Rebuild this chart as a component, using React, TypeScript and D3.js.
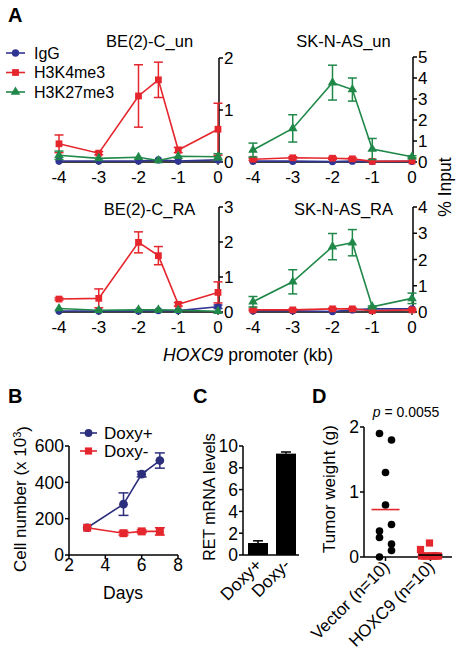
import React from "react";
import * as d3 from "d3";

const FONT = "'Liberation Sans', Arial, Helvetica, sans-serif";
const BLUE = "#303594";
const RED = "#e5262d";
const GREEN = "#20894a";
const NAVY = "#2c2f7c";

// ---------- Panel A data ----------
const promoterKb = [-4, -3, -2, -1.5, -1, 0];
const promoterTicks = [-4, -3, -2, -1, 0];
const seriesNames = ["IgG", "H3K4me3", "H3K27me3"];

const beUnIgG = [0.02, 0.02, 0.02, 0.04, 0.02, 0.04];
const beUnIgGErr = [0, 0, 0, 0, 0, 0];
const beUnK4 = [0.35, 0.17, 1.27, 1.58, 0.23, 0.63];
const beUnK4Err = [0.17, 0.03, 0.6, 0.34, 0.05, 0.5];
const beUnK27 = [0.13, 0.07, 0.09, 0.03, 0.11, 0.1];
const beUnK27Err = [0.08, 0.02, 0.02, 0.01, 0.02, 0.06];

const skUnIgG = [0.04, 0.04, 0.02, 0.04, 0.03, 0.03];
const skUnIgGErr = [0, 0, 0, 0, 0, 0];
const skUnK4 = [0.13, 0.2, 0.18, 0.15, 0.03, 0.05];
const skUnK4Err = [0.05, 0.05, 0.05, 0.05, 0.02, 0.02];
const skUnK27 = [0.57, 1.6, 3.78, 3.45, 0.62, 0.25];
const skUnK27Err = [0.33, 0.65, 0.83, 0.55, 0.5, 0.05];

const beRaIgG = [0.03, 0.03, 0.03, 0.04, 0.04, 0.15];
const beRaIgGErr = [0, 0, 0, 0, 0, 0.05];
const beRaK4 = [0.37, 0.39, 1.99, 1.61, 0.22, 0.56];
const beRaK4Err = [0.03, 0.27, 0.3, 0.26, 0.05, 0.3];
const beRaK27 = [0.1, 0.05, 0.06, 0.06, 0.05, 0.02];
const beRaK27Err = [0.02, 0.01, 0.01, 0.01, 0.01, 0.01];

const skRaIgG = [0.05, 0.05, 0.02, 0.08, 0.12, 0.12];
const skRaIgGErr = [0, 0, 0, 0, 0, 0];
const skRaK4 = [0.08, 0.08, 0.12, 0.12, 0.05, 0.08];
const skRaK4Err = [0.03, 0.03, 0.03, 0.03, 0.02, 0.03];
const skRaK27 = [0.39, 1.15, 2.49, 2.64, 0.2, 0.52];
const skRaK27Err = [0.2, 0.46, 0.5, 0.5, 0.03, 0.2];

// ---------- Panel B data ----------
const days = [3, 5, 6, 7];
const dayTicks = [2, 4, 6, 8];
const cellTicks = [0, 200, 400, 600];
const doxyPlusCells = [150, 280, 445, 520];
const doxyPlusErr = [0, 62, 15, 42];
const doxyMinusCells = [150, 120, 130, 130];
const doxyMinusErr = [0, 10, 8, 20];

// ---------- Panel C data ----------
const retGroups = ["Doxy+", "Doxy-"];
const retLevels = [1.1, 9.3];
const retErr = [0.2, 0.15];
const retTicks = [0, 2, 4, 6, 8, 10];

// ---------- Panel D data ----------
const tumorGroups = ["Vector (n=10)", "HOXC9 (n=10)"];
const vectorWeights = [1.9, 1.8, 1.3, 0.8, 0.5, 0.4, 0.3, 0.2, 0.1, 0.0];
const hoxc9Weights = [0.1, 0.2, 0, 0, 0, 0, 0, 0, 0, 0];
const tumorTicks = [0, 1, 2];
const pValueText = "= 0.0055";

// layout jitter (pixels) for the dot columns
const vectorJitter = [-6, 6, 0, 0, 6, -6, -6, 6, 6, -6];
const hoxc9Jitter = [-10, -1, -9, -4, 0, 4, 8, -6, 2, 6];

const sym = (type: any, size: number) => d3.symbol().type(type).size(size)() as string;

type Series = { vals: number[]; err: number[]; color: string; shape: any; size: number };

function ChipPanel(props: {
  title: string;
  xr: [number, number];
  yr: [number, number];
  yMax: number;
  titleY: number;
  igg: number[]; iggErr: number[];
  k4: number[]; k4Err: number[];
  k27: number[]; k27Err: number[];
}) {
  const x = d3.scaleLinear().domain([-4, 0]).range(props.xr);
  const y = d3.scaleLinear().domain([0, props.yMax]).range(props.yr);
  const yTicks = d3.range(0, props.yMax + 1);
  const series: Series[] = [
    { vals: props.igg, err: props.iggErr, color: BLUE, shape: d3.symbolCircle, size: 42 },
    { vals: props.k4, err: props.k4Err, color: RED, shape: d3.symbolSquare, size: 46 },
    { vals: props.k27, err: props.k27Err, color: GREEN, shape: d3.symbolTriangle, size: 40 },
  ];
  const line = d3
    .line<number>()
    .x((_, i) => x(promoterKb[i]))
    .y((d) => y(d));
  const ax = x(0) + 1;
  const y0 = y(0);
  return (
    <g>
      <text
        x={(x(-4) + x(0)) / 2 + 11}
        y={props.titleY}
        textAnchor="middle"
        fontSize={16.5}
        fontFamily={FONT}
      >
        {props.title}
      </text>
      {/* x axis */}
      <line x1={x(-4)} x2={ax} y1={y0} y2={y0} stroke="#000" strokeWidth={1.5} />
      {promoterTicks.map((t) => (
        <g key={t}>
          <line x1={x(t)} x2={x(t)} y1={y0} y2={y0 + 3} stroke="#000" strokeWidth={1.2} />
          <text x={x(t)} y={y0 + 21} textAnchor="middle" fontSize={17} fontFamily={FONT}>
            {t}
          </text>
        </g>
      ))}
      {/* right y axis */}
      <line x1={ax} x2={ax} y1={y(props.yMax)} y2={y0} stroke="#000" strokeWidth={1.5} />
      {yTicks.map((t) => (
        <g key={t}>
          <line x1={ax} x2={ax + 4} y1={y(t)} y2={y(t)} stroke="#000" strokeWidth={1.5} />
          <text x={ax + 5} y={y(t)} dy="0.36em" fontSize={17} fontFamily={FONT}>
            {t}
          </text>
        </g>
      ))}
      {series.map((s, si) => (
        <g key={si}>
          <path d={line(s.vals) || ""} fill="none" stroke={s.color} strokeWidth={1.6} />
          {s.vals.map((v, i) =>
            s.err[i] > 0.02 ? (
              <g key={i} stroke={s.color} strokeWidth={1.5}>
                <line x1={x(promoterKb[i])} x2={x(promoterKb[i])} y1={y(v - s.err[i])} y2={y(v + s.err[i])} />
                <line x1={x(promoterKb[i]) - 4.5} x2={x(promoterKb[i]) + 4.5} y1={y(v + s.err[i])} y2={y(v + s.err[i])} />
                <line x1={x(promoterKb[i]) - 4.5} x2={x(promoterKb[i]) + 4.5} y1={y(v - s.err[i])} y2={y(v - s.err[i])} />
              </g>
            ) : null
          )}
          {s.vals.map((v, i) => (
            <path
              key={"m" + i}
              d={sym(s.shape, s.size)}
              transform={`translate(${x(promoterKb[i])},${y(v)})`}
              fill={s.color}
            />
          ))}
        </g>
      ))}
    </g>
  );
}

function LegendA() {
  const items = [
    { name: seriesNames[0], color: BLUE, shape: d3.symbolCircle, size: 42 },
    { name: seriesNames[1], color: RED, shape: d3.symbolSquare, size: 46 },
    { name: seriesNames[2], color: GREEN, shape: d3.symbolTriangle, size: 40 },
  ];
  return (
    <g>
      {items.map((it, i) => {
        const cy = 53 + i * 19.5;
        return (
          <g key={it.name}>
            <line x1={6} x2={25} y1={cy} y2={cy} stroke={it.color} strokeWidth={1.6} />
            <path d={sym(it.shape, it.size)} transform={`translate(15.5,${cy})`} fill={it.color} />
            <text x={34} y={cy} dy="0.36em" fontSize={16} fontFamily={FONT}>
              {it.name}
            </text>
          </g>
        );
      })}
    </g>
  );
}

function PanelB() {
  const x = d3.scaleLinear().domain([2, 8]).range([69, 178]);
  const y = d3.scaleLinear().domain([0, 600]).range([555, 446]);
  const line = d3
    .line<number>()
    .x((_, i) => x(days[i]))
    .y((d) => y(d));
  const series = [
    { name: "Doxy+", vals: doxyPlusCells, err: doxyPlusErr, color: NAVY, shape: d3.symbolCircle, size: 60 },
    { name: "Doxy-", vals: doxyMinusCells, err: doxyMinusErr, color: RED, shape: d3.symbolSquare, size: 64 },
  ];
  return (
    <g>
      <line x1={x(2)} x2={x(8)} y1={y(0)} y2={y(0)} stroke="#000" strokeWidth={1.5} />
      {dayTicks.map((t) => (
        <g key={t}>
          <line x1={x(t)} x2={x(t)} y1={y(0)} y2={y(0) + 4} stroke="#000" strokeWidth={1.5} />
          <text x={x(t)} y={571} textAnchor="middle" fontSize={17.5} fontFamily={FONT}>
            {t}
          </text>
        </g>
      ))}
      <line x1={x(2)} x2={x(2)} y1={y(600)} y2={y(0)} stroke="#000" strokeWidth={1.5} />
      {cellTicks.map((t) => (
        <g key={t}>
          <line x1={x(2) - 4} x2={x(2)} y1={y(t)} y2={y(t)} stroke="#000" strokeWidth={1.5} />
          <text x={x(2) - 5} y={y(t)} dy="0.36em" textAnchor="end" fontSize={17.5} fontFamily={FONT}>
            {t}
          </text>
        </g>
      ))}
      <text x={123} y={599} textAnchor="middle" fontSize={17.5} fontFamily={FONT}>
        Days
      </text>
      <text
        transform="translate(26,499) rotate(-90)"
        textAnchor="middle"
        fontSize={17}
        fontFamily={FONT}
      >
        Cell number (x 10
        <tspan dy="-0.45em" fontSize={11}>
          3
        </tspan>
        <tspan dy="0.45em">)</tspan>
      </text>
      {series.map((s) => (
        <g key={s.name}>
          <path d={line(s.vals) || ""} fill="none" stroke={s.color} strokeWidth={1.6} />
          {s.vals.map((v, i) =>
            s.err[i] > 0 ? (
              <g key={i} stroke={s.color} strokeWidth={1.5}>
                <line x1={x(days[i])} x2={x(days[i])} y1={y(v - s.err[i])} y2={y(v + s.err[i])} />
                <line x1={x(days[i]) - 5} x2={x(days[i]) + 5} y1={y(v + s.err[i])} y2={y(v + s.err[i])} />
                <line x1={x(days[i]) - 5} x2={x(days[i]) + 5} y1={y(v - s.err[i])} y2={y(v - s.err[i])} />
              </g>
            ) : null
          )}
          {s.vals.map((v, i) => (
            <path key={"m" + i} d={sym(s.shape, s.size)} transform={`translate(${x(days[i])},${y(v)})`} fill={s.color} />
          ))}
        </g>
      ))}
      {series.map((s, i) => {
        const cy = 433 + i * 18;
        return (
          <g key={"lg" + s.name}>
            <line x1={80} x2={97} y1={cy} y2={cy} stroke={s.color} strokeWidth={1.6} />
            <path d={sym(s.shape, s.size * 0.8)} transform={`translate(88.5,${cy})`} fill={s.color} />
            <text x={104} y={cy} dy="0.36em" fontSize={17} fontFamily={FONT}>
              {s.name}
            </text>
          </g>
        );
      })}
    </g>
  );
}

function PanelC() {
  const x = d3.scaleBand().domain(retGroups).range([244, 300]).paddingInner(0.286).paddingOuter(0.143);
  const y = d3.scaleLinear().domain([0, 10]).range([555, 446]);
  const ax = 243;
  return (
    <g>
      {retGroups.map((g, i) => {
        const x0 = x(g) as number;
        const bw = x.bandwidth();
        const cx = x0 + bw / 2;
        return (
          <g key={g}>
            <line x1={cx} x2={cx} y1={y(retLevels[i])} y2={y(retLevels[i] + retErr[i])} stroke="#000" strokeWidth={1.5} />
            <line x1={cx - 5} x2={cx + 5} y1={y(retLevels[i] + retErr[i])} y2={y(retLevels[i] + retErr[i])} stroke="#000" strokeWidth={1.5} />
            <rect x={x0} y={y(retLevels[i])} width={bw} height={y(0) - y(retLevels[i])} fill="#000" />
            <text
              transform={`translate(${cx + 5},${566}) rotate(-45)`}
              textAnchor="end"
              fontSize={17.5}
              fontFamily={FONT}
            >
              {g}
            </text>
          </g>
        );
      })}
      <line x1={ax} x2={299} y1={y(0)} y2={y(0)} stroke="#000" strokeWidth={1.5} />
      <line x1={ax} x2={ax} y1={y(10)} y2={y(0)} stroke="#000" strokeWidth={1.5} />
      {retTicks.map((t) => (
        <g key={t}>
          <line x1={ax - 4} x2={ax} y1={y(t)} y2={y(t)} stroke="#000" strokeWidth={1.5} />
          <text x={ax - 5} y={y(t)} dy="0.36em" textAnchor="end" fontSize={17.5} fontFamily={FONT}>
            {t}
          </text>
        </g>
      ))}
      <text transform="translate(215,497) rotate(-90)" textAnchor="middle" fontSize={16} fontFamily={FONT}>
        RET mRNA levels
      </text>
    </g>
  );
}

function PanelD() {
  const x = d3.scalePoint().domain(tumorGroups).range([364, 452]).padding(0.478);
  const y = d3.scaleLinear().domain([0, 2]).range([557, 427]);
  const ax = 364;
  const cv = x(tumorGroups[0]) as number;
  const ch = x(tumorGroups[1]) as number;
  const meanV = d3.mean(vectorWeights) as number;
  const meanH = d3.mean(hoxc9Weights) as number;
  return (
    <g>
      <line x1={ax} x2={452} y1={y(0)} y2={y(0)} stroke="#000" strokeWidth={1.5} />
      <line x1={ax} x2={ax} y1={y(2)} y2={y(0)} stroke="#000" strokeWidth={1.5} />
      {tumorTicks.map((t) => (
        <g key={t}>
          <line x1={ax - 4} x2={ax} y1={y(t)} y2={y(t)} stroke="#000" strokeWidth={1.5} />
          <text x={ax - 5} y={y(t)} dy="0.36em" textAnchor="end" fontSize={17.5} fontFamily={FONT}>
            {t}
          </text>
        </g>
      ))}
      {tumorGroups.map((g) => {
        const cx = x(g) as number;
        return (
          <g key={g}>
            <line x1={cx} x2={cx} y1={y(0)} y2={y(0) + 4} stroke="#000" strokeWidth={1.5} />
            <text transform={`translate(${cx + 5},${568}) rotate(-45)`} textAnchor="end" fontSize={17} fontFamily={FONT}>
              {g}
            </text>
          </g>
        );
      })}
      {vectorWeights.map((v, i) => (
        <circle key={"v" + i} cx={cv + vectorJitter[i]} cy={y(v)} r={3.8} fill="#000" />
      ))}
      {hoxc9Weights.map((v, i) => (
        <path key={"h" + i} d={sym(d3.symbolSquare, 52)} transform={`translate(${ch + hoxc9Jitter[i]},${y(v) - 1})`} fill={RED} />
      ))}
      <line x1={cv - 14} x2={cv + 14} y1={y(meanV)} y2={y(meanV)} stroke={RED} strokeWidth={1.6} />
      <line x1={ch - 12} x2={ch + 12} y1={y(meanH)} y2={y(meanH)} stroke="#000" strokeWidth={1.6} />
      <text x={406} y={417} textAnchor="middle" fontSize={14} fontFamily={FONT}>
        <tspan fontStyle="italic">p</tspan> {pValueText}
      </text>
      <text transform="translate(335,489) rotate(-90)" textAnchor="middle" fontSize={17} fontFamily={FONT}>
        Tumor weight (g)
      </text>
    </g>
  );
}

export default function App() {
  return (
    <svg
      width={462}
      height={655}
      viewBox="0 0 462 655"
      style={{ position: "absolute", left: 0, top: 0, background: "#fff" }}
    >
      <rect width={462} height={655} fill="#fff" />
      <text x={8} y={22} fontSize={20} fontWeight="bold" fontFamily={FONT}>A</text>
      <text x={8} y={403} fontSize={20} fontWeight="bold" fontFamily={FONT}>B</text>
      <text x={193} y={403} fontSize={20} fontWeight="bold" fontFamily={FONT}>C</text>
      <text x={312} y={403} fontSize={20} fontWeight="bold" fontFamily={FONT}>D</text>

      <ChipPanel title="BE(2)-C_un" xr={[59, 218]} yr={[162, 58]} yMax={2} titleY={47}
        igg={beUnIgG} iggErr={beUnIgGErr} k4={beUnK4} k4Err={beUnK4Err} k27={beUnK27} k27Err={beUnK27Err} />
      <ChipPanel title="SK-N-AS_un" xr={[253, 412]} yr={[162, 57]} yMax={5} titleY={47}
        igg={skUnIgG} iggErr={skUnIgGErr} k4={skUnK4} k4Err={skUnK4Err} k27={skUnK27} k27Err={skUnK27Err} />
      <ChipPanel title="BE(2)-C_RA" xr={[59, 218]} yr={[312, 207]} yMax={3} titleY={215}
        igg={beRaIgG} iggErr={beRaIgGErr} k4={beRaK4} k4Err={beRaK4Err} k27={beRaK27} k27Err={beRaK27Err} />
      <ChipPanel title="SK-N-AS_RA" xr={[253, 412]} yr={[312, 207]} yMax={4} titleY={215}
        igg={skRaIgG} iggErr={skRaIgGErr} k4={skRaK4} k4Err={skRaK4Err} k27={skRaK27} k27Err={skRaK27Err} />
      <LegendA />
      <text x={163} y={361} fontSize={17.5} fontFamily={FONT}>
        <tspan fontStyle="italic">HOXC9</tspan> promoter (kb)
      </text>
      <text transform="translate(451,187) rotate(-90)" textAnchor="middle" fontSize={17.5} fontFamily={FONT}>
        % Input
      </text>

      <PanelB />
      <PanelC />
      <PanelD />
    </svg>
  );
}
